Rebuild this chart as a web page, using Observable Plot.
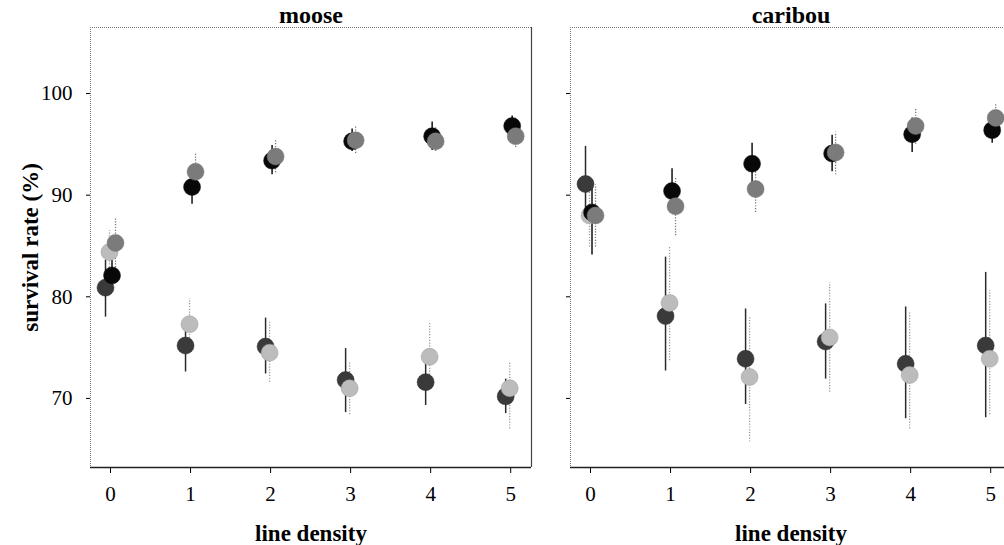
<!DOCTYPE html>
<html>
<head>
<meta charset="utf-8">
<script src="https://cdn.jsdelivr.net/npm/d3@7"></script>
<script src="https://cdn.jsdelivr.net/npm/@observablehq/plot@0.6"></script>
<style>
  html, body { margin: 0; padding: 0; background: #fff; overflow: hidden; }
  #wrap { display: flex; width: 1004px; height: 545px; overflow: hidden; }
  #wrap svg { flex-shrink: 0; }
</style>
</head>
<body>
<div id="wrap"></div>
<script>
// ---- data ----
const species = ["moose", "caribou"];
const density = [0, 1, 2, 3, 4, 5];
const yTicks = [70, 80, 90, 100];
const xTicks = [0, 1, 2, 3, 4, 5];
const xDomain = [-0.25, 5.26];
const yDomain = [63.2, 106.5];

// moose
const mooseA = [82.1, 90.8, 93.4, 95.3, 95.8, 96.8];
const mooseAlo = [80.6, 89.1, 92.0, 94.3, 94.4, 95.8];
const mooseAhi = [83.6, 92.4, 94.9, 96.5, 97.2, 97.8];
const mooseB = [85.3, 92.3, 93.8, 95.4, 95.3, 95.8];
const mooseBlo = [82.3, 90.6, 92.2, 94.1, 94.3, 94.7];
const mooseBhi = [87.8, 94.1, 95.4, 96.7, 96.6, 96.8];
const mooseC = [80.9, 75.2, 75.1, 71.8, 71.6, 70.2];
const mooseClo = [78.0, 72.6, 72.4, 68.6, 69.3, 68.5];
const mooseChi = [83.6, 77.5, 77.9, 74.9, 73.8, 71.9];
const mooseD = [84.4, 77.3, 74.5, 71.0, 74.1, 71.0];
const mooseDlo = [82.3, 74.8, 71.6, 68.4, 71.2, 67.0];
const mooseDhi = [86.5, 79.8, 77.6, 73.5, 77.4, 73.5];

// caribou
const caribouA = [88.3, 90.4, 93.1, 94.1, 96.0, 96.4];
const caribouAlo = [84.1, 88.8, 91.0, 92.3, 94.2, 95.1];
const caribouAhi = [91.5, 92.6, 95.1, 95.9, 97.6, 97.7];
const caribouB = [88.0, 88.9, 90.6, 94.2, 96.8, 97.6];
const caribouBlo = [84.9, 86.0, 88.3, 92.0, 95.0, 96.3];
const caribouBhi = [91.0, 91.7, 92.6, 96.2, 98.5, 99.0];
const caribouC = [91.1, 78.1, 73.9, 75.6, 73.4, 75.2];
const caribouClo = [87.4, 72.7, 69.4, 71.9, 68.0, 68.1];
const caribouChi = [94.8, 83.9, 78.8, 79.3, 79.0, 82.4];
const caribouD = [88.0, 79.4, 72.1, 76.0, 72.3, 73.9];
const caribouDlo = [84.9, 73.7, 65.7, 70.6, 67.0, 68.4];
const caribouDhi = [91.0, 85.0, 78.0, 81.4, 78.5, 80.6];

// ---- build ----
function rows(m, lo, hi) {
  return density.map((d, i) => ({d, m: m[i], lo: lo[i], hi: hi[i]}));
}
const dataBy = {
  moose: {
    C: rows(mooseC, mooseClo, mooseChi), D: rows(mooseD, mooseDlo, mooseDhi),
    A: rows(mooseA, mooseAlo, mooseAhi), B: rows(mooseB, mooseBlo, mooseBhi)
  },
  caribou: {
    C: rows(caribouC, caribouClo, caribouChi), D: rows(caribouD, caribouDlo, caribouDhi),
    A: rows(caribouA, caribouAlo, caribouAhi), B: rows(caribouB, caribouBlo, caribouBhi)
  }
};
const seriesStyle = [
  {key: "C", fill: "#3a3a3a", stroke: "#2a2a2a", dash: null, dx: -5},
  {key: "D", fill: "#bcbcbc", stroke: "#9a9a9a", dash: "1.2,1.6", dx: -1},
  {key: "A", fill: "#080808", stroke: "#111", dash: null, dx: 1.5},
  {key: "B", fill: "#7b7b7b", stroke: "#777", dash: "1.2,1.6", dx: 5}
];

function panel(sp, first) {
  const marks = [
    Plot.ruleY([yDomain[1]], {stroke: "#777", strokeWidth: 1, strokeDasharray: "1,1"}),
    Plot.ruleX([xDomain[0]], {stroke: "#777", strokeWidth: 1, strokeDasharray: "1,1"}),
    Plot.ruleY([yDomain[0]], {stroke: "#222", strokeWidth: 1.3})
  ];
  if (first) marks.push(Plot.ruleX([xDomain[1]], {stroke: "#444", strokeWidth: 1.2}));
  for (const s of seriesStyle) {
    marks.push(Plot.ruleX(dataBy[sp][s.key], {
      x: "d", y1: "lo", y2: "hi", dx: s.dx, stroke: s.stroke,
      strokeWidth: s.dash ? 1.3 : 1.5, strokeDasharray: s.dash
    }));
  }
  for (const s of seriesStyle) {
    marks.push(Plot.dot(dataBy[sp][s.key], {
      x: "d", y: "m", dx: s.dx, r: 8.5, fill: s.fill, stroke: s.stroke, strokeWidth: 0.5
    }));
  }
  marks.push(Plot.text([sp], {frameAnchor: "top", lineAnchor: "bottom", dy: -5, fontWeight: "bold", fontSize: 24}));
  marks.push(Plot.text(["line density"], {frameAnchor: "bottom", lineAnchor: "bottom", dy: 73, fontWeight: "bold", fontSize: 23}));
  if (first) {
    marks.push(Plot.text(["survival rate (%)"], {frameAnchor: "left", textAnchor: "middle", lineAnchor: "middle", dx: -60, rotate: -90, fontWeight: "bold", fontSize: 23}));
  }
  return Plot.plot({
    width: first ? 540 : 471,
    height: 545,
    marginLeft: first ? 90 : 30,
    marginRight: first ? 9 : 0,
    marginTop: 27,
    marginBottom: 78,
    style: {fontFamily: "'Liberation Serif', 'Times New Roman', serif", fontSize: "21px", color: "#000", background: "#fff", maxWidth: "none", overflow: "visible"},
    x: {domain: xDomain, ticks: xTicks, tickSize: 6, tickPadding: 13, label: null, tickFormat: d => String(d)},
    y: {domain: yDomain, ticks: yTicks, tickSize: 4, tickPadding: 14, label: null, tickFormat: first ? (d => String(d)) : (() => "")},
    marks
  });
}

const wrap = document.getElementById("wrap");
species.forEach((sp, i) => wrap.appendChild(panel(sp, i === 0)));
</script>
</body>
</html>
